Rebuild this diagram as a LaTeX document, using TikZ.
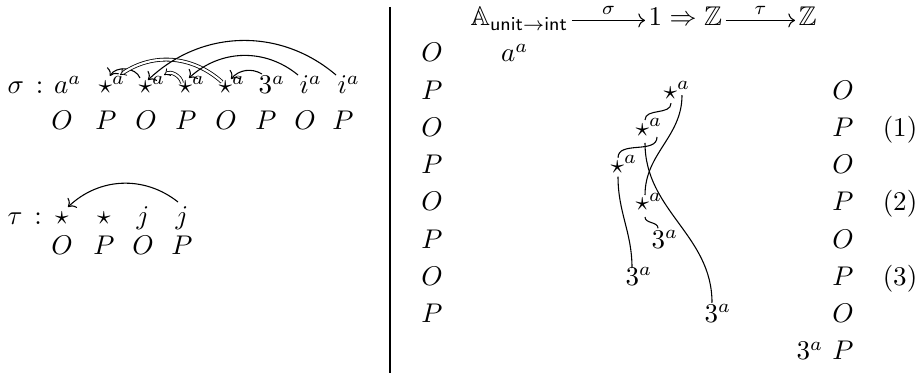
\documentclass[tikz,border=0pt]{standalone}
\usepackage{amsmath,amssymb}
\usepackage{tikz}
\usetikzlibrary{arrows.meta}
\newcommand{\an}[1]{#1^{\rlap{$\scriptstyle a$}}}
\tikzset{
  mv/.style={anchor=base, inner sep=0pt},
  pl/.style={anchor=base, inner sep=0pt},
  ptr/.style={draw, line width=0.4pt, -{To[length=2.4pt]}},
  dptr/.style={draw, line width=0.3pt, double, double distance=0.8pt, -{Implies}},
  thr/.style={draw, line width=0.4pt},
  hd/.style={anchor=base west, inner sep=0pt},
  harr/.style={draw, line width=0.4pt, -{To}},
  sep/.style={line width=1pt}
}

\begin{document}
\begin{tikzpicture}[x=0.37pt, y=0.37pt]
  \useasboundingbox (0,0) rectangle (920,-373);

  % Sigma play
  \node[pl, anchor=base west] (sig) at (7,-94) {$\sigma\,:$};
  \node[mv] (s0) at (62,-94) {$\an{a}$};
  \node[mv] (s1) at (106,-94) {$\an{\star}$};
  \node[mv] (s2) at (146,-94) {$\an{\star}$};
  \node[mv] (s3) at (186,-94) {$\an{\star}$};
  \node[mv] (s4) at (226,-94) {$\an{\star}$};
  \node[mv] (s5) at (266,-94) {$\an{3}$};
  \node[mv] (s6) at (305,-94) {$\an{i}$};
  \node[mv] (s7) at (343,-94) {$\an{i}$};
  \foreach \x/\p [count=\i] in {62/O,106/P,146/O,186/P,226/O,266/P,305/O,343/P}
    \node[pl] (sp\i) at (\x,-130) {$\p$};

  % Sigma pointers
  \draw[ptr] ([shift={(-6,16)}]s2.base) to[bend right=65] ([shift={(4,18)}]s1.base);
  \draw[dptr] ([shift={(-4,12)}]s4.base) to[bend right=38] ([shift={(14,19)}]s1.base);
  \draw[dptr] ([shift={(-4,11)}]s3.base) to[bend right=55] ([shift={(18,19)}]s2.base);
  \draw[ptr] ([shift={(-4,20)}]s5.base) to[bend right=40] ([shift={(5,15)}]s4.base);
  \draw[ptr] ([shift={(-7,19)}]s6.base) to[bend right=41] ([shift={(3,16)}]s3.base);
  \draw[ptr] ([shift={(-7,19)}]s7.base) to[bend right=42] ([shift={(2,14)}]s2.base);

  % Tau play
  \node[pl, anchor=base west] (tau) at (7,-225) {$\tau\,:$};
  \node[mv] (t1) at (62,-225) {$\star$};
  \node[mv] (t2) at (104,-225) {$\star$};
  \node[mv] (t3) at (143,-225) {$j$};
  \node[mv] (t4) at (182,-225) {$j$};
  \foreach \x/\p [count=\i] in {62/O,104/P,143/O,182/P}
    \node[pl] (tp\i) at (\x,-255) {$\p$};
  \draw[ptr] ([shift={(-4,23)}]t4.base) to[bend right=41] ([shift={(6,18)}]t1.base);

  % Separator
  \draw[sep] (390,-7) -- (390,-373);

  % Composition header
  \node[hd] (hA) at (470,-26) {$\mathbb{A}_{\mathsf{unit}\to\mathsf{int}}$};
  \node[hd] (hB) at (648,-26) {$1\Rightarrow\mathbb{Z}$};
  \node[hd] (hC) at (798,-26) {$\mathbb{Z}$};
  \draw[harr] ([shift={(3,5.6)}]hA.base east) -- node[above, inner sep=2pt] {$\scriptstyle\sigma$} ([shift={(-3,5.6)}]hB.base west);
  \draw[harr] ([shift={(3,5.6)}]hB.base east) -- node[above, inner sep=2pt] {$\scriptstyle\tau$} ([shift={(-3,5.6)}]hC.base west);

  % Player columns
  \foreach \p [count=\k from 0] in {O,P,O,P,O,P,O,P}
    \node[pl] (L\k) at (432,{-62-37.25*\k}) {$\p$};
  \foreach \p [count=\k from 1] in {O,P,O,P,O,P,O,P}
    \node[pl] (R\k) at (843,{-62-37.25*\k}) {$\p$};
  \foreach \k/\n in {2/1,4/2,6/3}
    \node[pl] (eq\n) at (900,{-62-37.25*\k}) {$(\n)$};

  % Interaction moves
  \node[mv] (m0) at (509,-62) {$\an{a}$};
  \node[mv] (m1) at (671,-99.25) {$\an{\star}$};
  \node[mv] (m2) at (643,-136.5) {$\an{\star}$};
  \node[mv] (m3) at (618,-173.75) {$\an{\star}$};
  \node[mv] (m4) at (643,-211) {$\an{\star}$};
  \node[mv] (m5) at (659,-248.25) {$\an{3}$};
  \node[mv] (m6) at (633,-285.5) {$\an{3}$};
  \node[mv] (m7) at (712,-322.75) {$\an{3}$};
  \node[mv] (m8) at (804,-360) {$\an{3}$};

  % Threads
  \draw[thr] ([shift={(0,-4)}]m1.base) to[out=-90,in=90] ([shift={(2,16.5)}]m2.base);
  \draw[thr] ([shift={(11,4)}]m1.base) to[out=-90,in=90] ([shift={(2,16)}]m4.base);
  \draw[thr] ([shift={(14,-0.5)}]m2.base) to[out=-90,in=90] ([shift={(0,16)}]m3.base);
  \draw[thr] ([shift={(2,-6.5)}]m2.base) to[out=-90,in=90] ([shift={(0,20)}]m7.base);
  \draw[thr] ([shift={(0,-3)}]m3.base) to[out=-90,in=90] ([shift={(-1,17.5)}]m6.base);
  \draw[thr] ([shift={(2,-6)}]m4.base) to[out=-90,in=90] ([shift={(-1,20)}]m5.base);
\end{tikzpicture}
\end{document}
